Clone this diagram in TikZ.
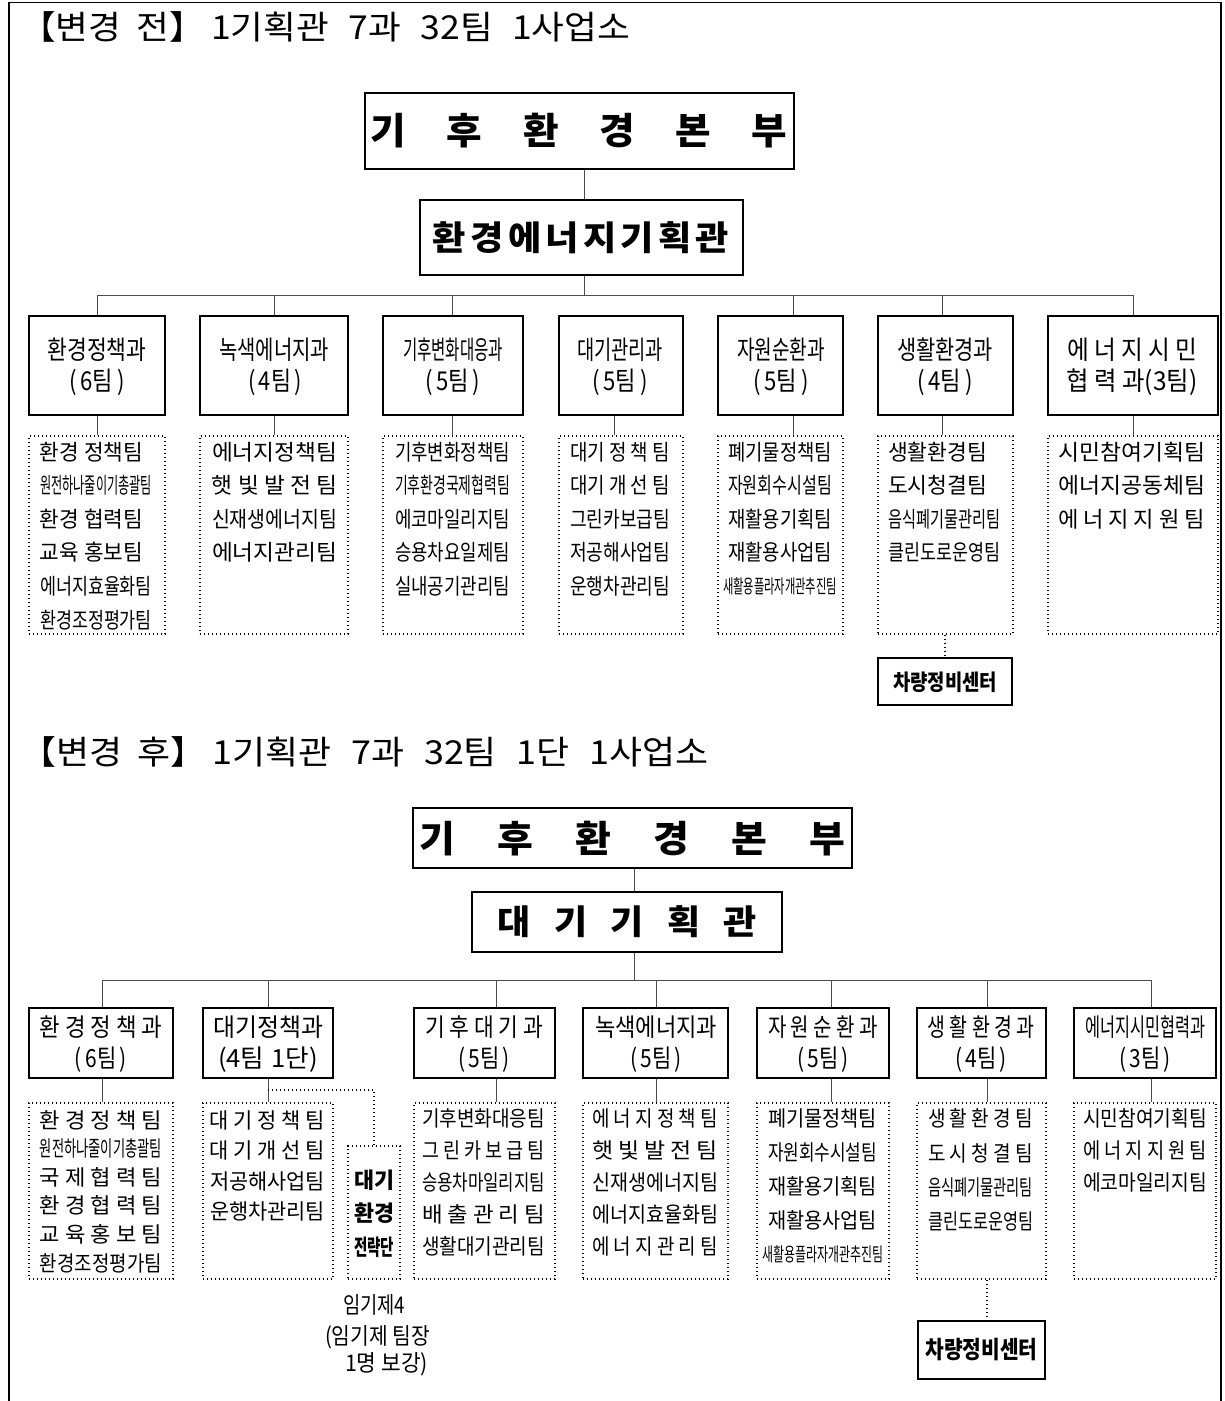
\documentclass[tikz,border=0pt]{standalone}
\usepackage{fontspec}
\usepackage{graphicx}
\setmainfont{Noto Sans CJK KR}
\usetikzlibrary{calc}
\newcommand{\fitw}[2]{\resizebox{#1pt}{\height}{#2}}
\newcommand{\mkbox}[6]{\node[#2,minimum width={(#5)-(#3)},minimum height={(#6)-(#4)}] (#1) at ({((#3)+(#5))/2},{((#4)+(#6))/2}) {};}
\newcommand{\tline}[6]{\node[#2] (#1) at (#3,#4) {\fitw{#5}{#6}};}
\begin{document}
\begin{tikzpicture}[x=1pt,y=-1pt,
 frm/.style={line width=1.6pt},
 hq/.style={draw,line width=2.4pt,inner sep=0pt},
 dv/.style={draw,line width=2.6pt,inner sep=0pt},
 tm/.style={draw,line width=1.3pt,dash pattern=on 1.3pt off 2.7pt,inner sep=0pt},
 cb/.style={draw,line width=1.6pt,inner sep=0pt},
 con/.style={line width=1pt,draw=black!70},
 dcon/.style={line width=1.3pt,dash pattern=on 1.3pt off 2.7pt},
 ttl/.style={inner sep=0pt,font=\fontsize{33}{33}\selectfont},
 hqt/.style={inner sep=0pt,font=\fontsize{37}{37}\selectfont\bfseries},
 plt/.style={inner sep=0pt,font=\fontsize{34}{34}\selectfont\bfseries},
 dvt/.style={inner sep=0pt,font=\fontsize{26}{26}\selectfont},
 dvb/.style={inner sep=0pt,font=\fontsize{25}{25}\selectfont},
 tmt/.style={inner sep=0pt,font=\fontsize{22}{22}\selectfont},
 tmb/.style={inner sep=0pt,font=\fontsize{21.5}{21.5}\selectfont},
 tms/.style={inner sep=0pt,font=\fontsize{19}{19}\selectfont},
 bdt/.style={inner sep=0pt,font=\fontsize{22}{22}\selectfont\bfseries},
 nt/.style={inner sep=0pt,font=\fontsize{23}{23}\selectfont},
]
\useasboundingbox (0,0) rectangle (1225,1401);
% frame
\draw[line width=2.6pt] (9,1401) -- (9,2.5);
\draw[frm] (8,2.5) -- (1221,2.5) -- (1221,1401);

% ================= BEFORE =================
\node[ttl,anchor=west] (title1) at (20,27) {\fitw{610}{【변경\hspace{14pt}전】\hspace{6pt}1기획관\hspace{18pt}7과\hspace{18pt}32팀\hspace{18pt}1사업소}};

\mkbox{hqA}{hq}{365}{93}{794}{169}
\node[hqt] (hqAt) at (579,131) {\fitw{417}{기\hspace{39pt}후\hspace{39pt}환\hspace{39pt}경\hspace{39pt}본\hspace{39pt}부}};
\mkbox{plA}{hq}{420}{200}{743}{275}
\node[plt] (plAt) at (581,238) {\fitw{296}{환\hspace{4pt}경\hspace{4pt}에\hspace{4pt}너\hspace{4pt}지\hspace{4pt}기\hspace{4pt}획\hspace{4pt}관}};

\mkbox{d1}{dv}{29}{316}{165}{415}
\mkbox{d2}{dv}{200}{316}{348}{415}
\mkbox{d3}{dv}{383}{316}{523}{415}
\mkbox{d4}{dv}{559}{316}{683}{415}
\mkbox{d5}{dv}{718}{316}{843}{415}
\mkbox{d6}{dv}{878}{316}{1013}{415}
\mkbox{d7}{dv}{1048}{316}{1218}{415}

\mkbox{t1}{tm}{29}{436}{165}{634}
\mkbox{t2}{tm}{200}{436}{348}{634}
\mkbox{t3}{tm}{383}{436}{523}{634}
\mkbox{t4}{tm}{559}{436}{683}{634}
\mkbox{t5}{tm}{718}{436}{843}{634}
\mkbox{t6}{tm}{878}{436}{1013}{634}
\mkbox{t7}{tm}{1048}{436}{1218}{634}

\mkbox{carA}{cb}{878}{658}{1012}{705}
\node[bdt] (carAt) at (945,682) {\fitw{104}{차량정비센터}};

% connectors before
\coordinate (bA) at (584,295);
\coordinate (a1) at (97,295);
\coordinate (a2) at (274,295);
\coordinate (a3) at (452,295);
\coordinate (a4) at (614,295);
\coordinate (a5) at (793,295);
\coordinate (a6) at (942,295);
\coordinate (a7) at (1133,295);
\draw[con] (hqA.south -| bA) -- (plA.north -| bA);
\draw[con] (plA.south -| bA) -- (bA);
\draw[con] (a1) -- (a7);
\foreach \i in {1,2,3,5,6,7} \draw[con] (a\i) -- (a\i |- d\i.north);
\foreach \i in {1,...,7} \draw[con] (a\i |- d\i.south) -- (a\i |- t\i.north);
\draw[dcon] (carA.north |- t6.south) -- (carA.north);

% division texts before
\tline{d1a}{dvt}{97}{350}{99}{환경정책과}
\tline{d1b}{dvt}{97}{382}{55}{(\,6팀\,)}
\tline{d2a}{dvt}{274}{350}{110}{녹색에너지과}
\tline{d2b}{dvt}{275}{382}{54}{(\,4팀\,)}
\tline{d3a}{dvt}{453}{350}{100}{기후변화대응과}
\tline{d3b}{dvt}{452.5}{382}{55}{(\,5팀\,)}
\tline{d4a}{dvt}{620}{350}{86}{대기관리과}
\tline{d4b}{dvt}{620}{382}{55}{(\,5팀\,)}
\tline{d5a}{dvt}{781}{350}{88}{자원순환과}
\tline{d5b}{dvt}{781}{382}{55}{(\,5팀\,)}
\tline{d6a}{dvt}{945}{350}{96}{생활환경과}
\tline{d6b}{dvt}{945}{382}{55}{(\,4팀\,)}
\tline{d7a}{dvt}{1132}{350}{130}{에 너 지 시 민}
\tline{d7b}{dvt}{1132}{382}{131}{협 력 과(3팀)}

% team texts before
\tline{t1a}{tmt}{91.5}{452}{103}{환경 정책팀}
\tline{t1b}{tmt}{96}{485.5}{112}{원전하나줄이기총괄팀}
\tline{t1c}{tmt}{91.5}{519}{103}{환경 협력팀}
\tline{t1d}{tmt}{91.5}{552.5}{103}{교육 홍보팀}
\tline{t1e}{tmt}{96}{586}{112}{에너지효율화팀}
\tline{t1f}{tmt}{96}{620}{112}{환경조정평가팀}

\tline{t2a}{tmt}{274.5}{452}{125}{에너지정책팀}
\tline{t2b}{tmt}{274.5}{485.5}{125}{햇 빛 발 전 팀}
\tline{t2c}{tmt}{274.5}{519}{125}{신재생에너지팀}
\tline{t2d}{tmt}{274.5}{552.5}{125}{에너지관리팀}

\tline{t3a}{tmt}{452.5}{452}{115}{기후변화정책팀}
\tline{t3b}{tmt}{452.5}{485.5}{115}{기후환경국제협력팀}
\tline{t3c}{tmt}{452.5}{519}{115}{에코마일리지팀}
\tline{t3d}{tmt}{452.5}{552.5}{115}{승용차요일제팀}
\tline{t3e}{tmt}{452.5}{586}{115}{실내공기관리팀}

\tline{t4a}{tmt}{620}{452}{100}{대기 정 책 팀}
\tline{t4b}{tmt}{620}{485.5}{100}{대기 개 선 팀}
\tline{t4c}{tmt}{620}{519}{100}{그린카보급팀}
\tline{t4d}{tmt}{620}{552.5}{100}{저공해사업팀}
\tline{t4e}{tmt}{620}{586}{100}{운행차관리팀}

\tline{t5a}{tmt}{780}{452}{104}{폐기물정책팀}
\tline{t5b}{tmt}{780}{485.5}{104}{자원회수시설팀}
\tline{t5c}{tmt}{780}{519}{104}{재활용기획팀}
\tline{t5d}{tmt}{780}{552.5}{104}{재활용사업팀}
\tline{t5e}{tms}{780}{586}{114}{새활용플라자개관추진팀}

\tline{t6a}{tmt}{937.5}{452}{99}{생활환경팀}
\tline{t6b}{tmt}{937.5}{485.5}{99}{도시청결팀}
\tline{t6c}{tmt}{944}{519}{112}{음식폐기물관리팀}
\tline{t6d}{tmt}{944}{552.5}{112}{클린도로운영팀}

\tline{t7a}{tmt}{1131.5}{452}{147}{시민참여기획팀}
\tline{t7b}{tmt}{1131.5}{485.5}{147}{에너지공동체팀}
\tline{t7c}{tmt}{1131.5}{519}{147}{에 너 지 지 원 팀}

% ================= AFTER =================
\node[ttl,anchor=west] (title2) at (20,752) {\fitw{688}{【변경\hspace{14pt}후】\hspace{6pt}1기획관\hspace{18pt}7과\hspace{18pt}32팀\hspace{18pt}1단\hspace{18pt}1사업소}};

\mkbox{hqB}{hq}{413}{808}{852}{868}
\node[hqt] (hqBt) at (632.5,838.5) {\fitw{425}{기\hspace{40pt}후\hspace{40pt}환\hspace{40pt}경\hspace{40pt}본\hspace{40pt}부}};
\mkbox{plB}{hq}{472}{892}{782}{952}
\node[plt] (plBt) at (627.5,922) {\fitw{259}{대\hspace{22pt}기\hspace{22pt}기\hspace{22pt}획\hspace{22pt}관}};

\mkbox{e1}{dv}{29}{1008}{173}{1078}
\mkbox{e2}{dv}{203}{1008}{333}{1078}
\mkbox{e3}{dv}{414}{1008}{555}{1078}
\mkbox{e4}{dv}{583}{1008}{728}{1078}
\mkbox{e5}{dv}{757}{1008}{889}{1078}
\mkbox{e6}{dv}{917}{1008}{1046}{1078}
\mkbox{e7}{dv}{1074}{1008}{1216}{1078}

\mkbox{u1}{tm}{29}{1103}{173}{1279}
\mkbox{u2}{tm}{203}{1103}{333}{1279}
\mkbox{u3}{tm}{414}{1103}{555}{1279}
\mkbox{u4}{tm}{583}{1103}{728}{1279}
\mkbox{u5}{tm}{757}{1103}{889}{1279}
\mkbox{u6}{tm}{917}{1103}{1046}{1279}
\mkbox{u7}{tm}{1074}{1103}{1216}{1279}

\mkbox{strB}{tm}{348}{1146}{400}{1279}
\tline{strBa}{bdt}{374}{1180}{40}{대기}
\tline{strBb}{bdt}{374}{1213}{40}{환경}
\tline{strBc}{bdt}{374}{1247}{40}{전략단}

\tline{noteA}{nt}{374}{1305}{62}{임기제4}
\tline{noteB}{nt}{377.5}{1337}{105}{(임기제 팀장}
\tline{noteC}{nt}{386.5}{1364}{83}{1명 보강)}

\mkbox{carB}{cb}{918}{1321}{1045}{1379}
\node[bdt,font=\fontsize{24}{24}\selectfont\bfseries] (carBt) at (981.5,1350) {\fitw{112}{차량정비센터}};

% connectors after
\coordinate (bB) at (634,980);
\coordinate (b1) at (102,980);
\coordinate (b2) at (268,980);
\coordinate (b3) at (496,980);
\coordinate (b4) at (656,980);
\coordinate (b5) at (831,980);
\coordinate (b6) at (987,980);
\coordinate (b7) at (1151,980);
\draw[con] (hqB.south -| bB) -- (plB.north -| bB);
\draw[con] (plB.south -| bB) -- (bB);
\draw[con] (b1) -- (b7);
\foreach \i in {1,...,7} {
  \draw[con] (b\i) -- (b\i |- e\i.north);
  \draw[con] (b\i |- e\i.south) -- (b\i |- u\i.north);
}
\coordinate (sj) at (268,1090);
\draw[dcon] (sj) -| (strB.north);
\draw[dcon] (b6 |- u6.south) -- (b6 |- carB.north);

% division texts after
\tline{e1a}{dvb}{101}{1027}{123}{환 경 정 책 과}
\tline{e1b}{dvb}{101}{1060}{52}{(\,6팀\,)}
\tline{e2a}{dvb}{268}{1027}{110}{대기정책과}
\tline{e2b}{dvb}{268}{1060}{100}{(4팀\hspace{7pt}1단)}
\tline{e3a}{dvb}{484}{1027}{118}{기 후 대 기 과}
\tline{e3b}{dvb}{484}{1060}{52}{(\,5팀\,)}
\tline{e4a}{dvb}{656}{1027}{122}{녹색에너지과}
\tline{e4b}{dvb}{656}{1060}{52}{(\,5팀\,)}
\tline{e5a}{dvb}{823}{1027}{110}{자 원 순 환 과}
\tline{e5b}{dvb}{823}{1060}{52}{(\,5팀\,)}
\tline{e6a}{dvb}{981}{1027}{107}{생 활 환 경 과}
\tline{e6b}{dvb}{981}{1060}{52}{(\,4팀\,)}
\tline{e7a}{dvb}{1145}{1027}{120}{에너지시민협력과}
\tline{e7b}{dvb}{1145}{1060}{52}{(\,3팀\,)}

% team texts after
\tline{u1a}{tmb}{101}{1120}{122}{환 경 정 책 팀}
\tline{u1b}{tmb}{101}{1148.6}{122}{원전하나줄이기총괄팀}
\tline{u1c}{tmb}{101}{1177.2}{122}{국 제 협 력 팀}
\tline{u1d}{tmb}{101}{1205.8}{122}{환 경 협 력 팀}
\tline{u1e}{tmb}{101}{1234.4}{122}{교 육 홍 보 팀}
\tline{u1f}{tmb}{101}{1263}{122}{환경조정평가팀}

\tline{u2a}{tmb}{267.5}{1120}{115}{대 기 정 책 팀}
\tline{u2b}{tmb}{267.5}{1150.5}{115}{대 기 개 선 팀}
\tline{u2c}{tmb}{267.5}{1181}{115}{저공해사업팀}
\tline{u2d}{tmb}{267.5}{1211.5}{115}{운행차관리팀}

\tline{u3a}{tmb}{483.5}{1118}{123}{기후변화대응팀}
\tline{u3b}{tmb}{483.5}{1150}{123}{그 린 카 보 급 팀}
\tline{u3c}{tmb}{483.5}{1182}{123}{승용차마일리지팀}
\tline{u3d}{tmb}{483.5}{1214}{123}{배 출 관 리 팀}
\tline{u3e}{tmb}{483.5}{1246}{123}{생활대기관리팀}

\tline{u4a}{tmb}{655}{1118}{126}{에 너 지 정 책 팀}
\tline{u4b}{tmb}{655}{1150}{126}{햇 빛 발 전 팀}
\tline{u4c}{tmb}{655}{1182}{126}{신재생에너지팀}
\tline{u4d}{tmb}{655}{1214}{126}{에너지효율화팀}
\tline{u4e}{tmb}{655}{1246}{126}{에 너 지 관 리 팀}

\tline{u5a}{tmb}{822.5}{1118}{109}{폐기물정책팀}
\tline{u5b}{tmb}{822.5}{1152}{109}{자원회수시설팀}
\tline{u5c}{tmb}{822.5}{1186}{109}{재활용기획팀}
\tline{u5d}{tmb}{822.5}{1220}{109}{재활용사업팀}
\tline{u5e}{tms}{822.5}{1254}{121}{새활용플라자개관추진팀}

\tline{u6a}{tmb}{980.5}{1118}{105}{생 활 환 경 팀}
\tline{u6b}{tmb}{980.5}{1153}{105}{도 시 청 결 팀}
\tline{u6c}{tmb}{980.5}{1187}{105}{음식폐기물관리팀}
\tline{u6d}{tmb}{980.5}{1221}{105}{클린도로운영팀}

\tline{u7a}{tmb}{1145}{1118}{124}{시민참여기획팀}
\tline{u7b}{tmb}{1145}{1150}{124}{에 너 지 지 원 팀}
\tline{u7c}{tmb}{1145}{1182}{124}{에코마일리지팀}
\end{tikzpicture}
\end{document}
